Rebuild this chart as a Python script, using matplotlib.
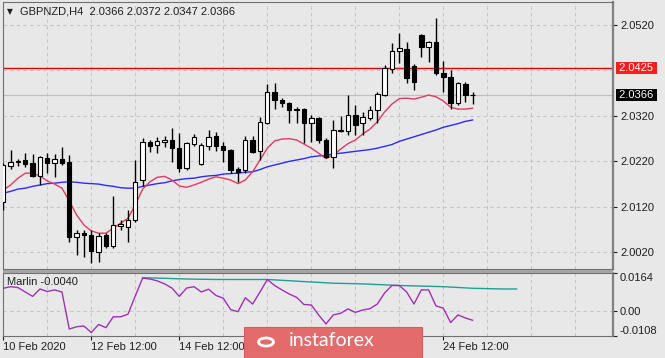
import matplotlib
matplotlib.use("Agg")
import matplotlib.pyplot as plt
from matplotlib.patches import Rectangle, Circle

plt.rcParams['font.family'] = ['Liberation Sans', 'DejaVu Sans']

# GBPNZD H4 candles
opens = [2.0131, 2.0210, 2.0218, 2.0223, 2.0216, 2.0188, 2.0228, 2.0216, 2.0225, 2.0218,
         2.0053, 2.0062, 2.0058, 2.0021, 2.0058, 2.0034, 2.0078, 2.0076, 2.0091, 2.0178,
         2.0263, 2.0256, 2.0262, 2.0268, 2.0249, 2.0205, 2.0258, 2.0214, 2.0254, 2.0276,
         2.0254, 2.0245, 2.0203, 2.0201, 2.0267, 2.0243, 2.0305, 2.0373, 2.0355, 2.0349,
         2.0335, 2.0335, 2.0304, 2.0315, 2.0268, 2.0230, 2.0287, 2.0287, 2.0322, 2.0304,
         2.0315, 2.0333, 2.0366, 2.0423, 2.0463, 2.0467, 2.0430, 2.0498, 2.0471, 2.0482,
         2.0414, 2.0406, 2.0349, 2.0390, 2.0366]
highs = [2.0216, 2.0245, 2.0225, 2.0239, 2.0236, 2.0232, 2.0239, 2.0236, 2.0251, 2.0234,
         2.0069, 2.0069, 2.0069, 2.0062, 2.0062, 2.0144, 2.0091, 2.0113, 2.0223, 2.0271,
         2.0268, 2.0273, 2.0276, 2.0293, 2.0283, 2.0263, 2.0280, 2.0260, 2.0288, 2.0285,
         2.0263, 2.0247, 2.0208, 2.0276, 2.0276, 2.0318, 2.0390, 2.0393, 2.0359, 2.0351,
         2.0339, 2.0337, 2.0322, 2.0318, 2.0271, 2.0310, 2.0320, 2.0366, 2.0344, 2.0329,
         2.0342, 2.0373, 2.0432, 2.0480, 2.0502, 2.0483, 2.0434, 2.0500, 2.0485, 2.0535,
         2.0441, 2.0421, 2.0395, 2.0395, 2.0372]
lows = [2.0113, 2.0203, 2.0210, 2.0208, 2.0186, 2.0168, 2.0194, 2.0185, 2.0212, 2.0043,
        2.0014, 2.0010, 1.9997, 1.9999, 2.0029, 2.0029, 2.0069, 2.0043, 2.0087, 2.0166,
        2.0241, 2.0239, 2.0251, 2.0219, 2.0197, 2.0201, 2.0254, 2.0212, 2.0245, 2.0243,
        2.0219, 2.0194, 2.0175, 2.0194, 2.0238, 2.0223, 2.0302, 2.0335, 2.0340, 2.0305,
        2.0304, 2.0260, 2.0263, 2.0260, 2.0227, 2.0205, 2.0285, 2.0278, 2.0278, 2.0278,
        2.0311, 2.0304, 2.0364, 2.0415, 2.0437, 2.0392, 2.0377, 2.0450, 2.0438, 2.0410,
        2.0373, 2.0335, 2.0344, 2.0351, 2.0347]
closes = [2.0212, 2.0219, 2.0221, 2.0214, 2.0188, 2.0229, 2.0216, 2.0225, 2.0216, 2.0053,
          2.0062, 2.0058, 2.0023, 2.0056, 2.0034, 2.0080, 2.0082, 2.0091, 2.0175, 2.0263,
          2.0254, 2.0265, 2.0268, 2.0249, 2.0205, 2.0260, 2.0273, 2.0256, 2.0274, 2.0254,
          2.0245, 2.0201, 2.0197, 2.0268, 2.0241, 2.0307, 2.0373, 2.0355, 2.0348, 2.0332,
          2.0334, 2.0304, 2.0315, 2.0268, 2.0230, 2.0289, 2.0290, 2.0322, 2.0300, 2.0318,
          2.0333, 2.0368, 2.0425, 2.0463, 2.0469, 2.0403, 2.0395, 2.0471, 2.0482, 2.0414,
          2.0406, 2.0348, 2.0392, 2.0366, 2.0366]

ma_fast = [2.0157, 2.0168, 2.0183, 2.0194, 2.0194, 2.0188, 2.0177, 2.0170, 2.0161, 2.0133,
           2.0102, 2.0080, 2.0067, 2.0062, 2.0062, 2.0073, 2.0084, 2.0095, 2.0124, 2.0159,
           2.0175, 2.0185, 2.0187, 2.0179, 2.0166, 2.0163, 2.0168, 2.0174, 2.0181, 2.0186,
           2.0183, 2.0179, 2.0171, 2.0179, 2.0197, 2.0223, 2.0249, 2.0265, 2.0269, 2.0270,
           2.0267, 2.0258, 2.0249, 2.0238, 2.0226, 2.0234, 2.0247, 2.0259, 2.0267, 2.0280,
           2.0291, 2.0307, 2.0329, 2.0346, 2.0358, 2.0359, 2.0357, 2.0361, 2.0366, 2.0362,
           2.0353, 2.0339, 2.0335, 2.0335, 2.0337]
ma_slow = [2.0150, 2.0154, 2.0159, 2.0161, 2.0165, 2.0168, 2.0171, 2.0172, 2.0174, 2.0175,
           2.0174, 2.0172, 2.0171, 2.0170, 2.0167, 2.0165, 2.0162, 2.0161, 2.0161, 2.0165,
           2.0168, 2.0171, 2.0173, 2.0177, 2.0180, 2.0182, 2.0183, 2.0186, 2.0188, 2.0189,
           2.0192, 2.0193, 2.0194, 2.0196, 2.0197, 2.0202, 2.0208, 2.0212, 2.0216, 2.0220,
           2.0223, 2.0226, 2.0230, 2.0232, 2.0233, 2.0236, 2.0238, 2.0240, 2.0242, 2.0244,
           2.0246, 2.0249, 2.0253, 2.0257, 2.0264, 2.0269, 2.0274, 2.0279, 2.0284, 2.0289,
           2.0295, 2.0299, 2.0303, 2.0308, 2.0311]

marlin = [0.0098, 0.0105, 0.0101, 0.0082, 0.0063, 0.0095, 0.0084, 0.0091, 0.0082, -0.0078,
          -0.0068, -0.0065, -0.0093, -0.0058, -0.0072, -0.0025, -0.0025, -0.0014, 0.0065, 0.0142,
          0.0138, 0.0130, 0.0117, 0.0099, 0.0063, 0.0099, 0.0105, 0.0082, 0.0094, 0.0067,
          0.0055, 0.0006, -0.0003, 0.0057, 0.0030, 0.0082, 0.0136, 0.0110, 0.0091, 0.0073,
          0.0059, 0.0028, 0.0026, -0.0017, -0.0056, -0.0017, -0.0010, 0.0009, -0.0006, 0.0004,
          0.0010, 0.0030, 0.0078, 0.0110, 0.0110, 0.0082, 0.0030, 0.0091, 0.0091, 0.0022,
          0.0012, -0.0050, -0.0017, -0.0030, -0.0040]
signal_idx = [19, 25, 29, 36, 41, 45, 49, 54, 60, 64, 68, 70]
signal_val = [0.0144, 0.0138, 0.0136, 0.0136, 0.0127, 0.0120, 0.0117, 0.0110, 0.0105, 0.0098, 0.0095, 0.0095]

price_grid = [2.0020, 2.0120, 2.0220, 2.0320, 2.0420, 2.0520]
price_ticks = [2.0020, 2.0120, 2.0220, 2.0320, 2.0520]
level_price = 2.0425
bid_price = 2.0366
marlin_ticks = [-0.0108, 0.0, 0.0164]
marlin_tick_labels = ["-0.0108", "0.00", "0.0164"]
time_idx = [0, 12, 24, 60]
time_labels = ["10 Feb 2020", "12 Feb 12:00", "14 Feb 12:00", "24 Feb 12:00"]
title = "GBPNZD,H4  2.0366 2.0372 2.0347 2.0366"

BG = '#e8e8e8'
GRID = '#c6c6c6'
TXT = '#1e1e1e'
W, H = 665, 358


def box(l, t, r, b):
    return [l / W, 1 - b / H, (r - l) / W, (b - t) / H]


fig = plt.figure(figsize=(W / 100, H / 100), dpi=100, facecolor=BG)
ax = fig.add_axes(box(3, 2, 613, 269), facecolor=BG)
ax2 = fig.add_axes(box(3, 273, 613, 336), facecolor=BG)

for a in (ax, ax2):
    a.set_xlim(-0.04, 83.14)
    for s in a.spines.values():
        s.set_color('#707070')
        s.set_linewidth(0.8)
    a.spines['right'].set_linewidth(1.6)
    a.spines['right'].set_color('#808080')
    for g in range(0, 84, 6):
        a.axvline(g, color=GRID, lw=0.8, ls=(0, (3, 3)), zorder=0)
    a.yaxis.tick_right()
    a.tick_params(axis='y', direction='out', length=3, width=0.8, pad=2,
                  labelsize=8, colors=TXT)

# main pane
ax.set_ylim(1.99832, 2.05706)
for p in price_grid:
    ax.axhline(p, color=GRID, lw=0.8, ls=(0, (3, 3)), zorder=0)
ax.set_yticks(price_ticks)
ax.set_yticklabels([f"{p:.4f}" for p in price_ticks])
ax.set_xticks([])

ax.axhline(bid_price, color='#c0c0c0', lw=0.9, zorder=1)
ax.axhline(level_price, color='#e00000', lw=1.0, zorder=1)

idx = list(range(len(opens)))
ax.plot(idx, ma_slow, color='#2b2bff', lw=1.0, zorder=2)
ax.plot(idx, ma_fast, color='#e23a5e', lw=1.0, zorder=2)

for i in idx:
    o, h, l, c = opens[i], highs[i], lows[i], closes[i]
    ax.vlines(i, l, h, color='black', lw=1.0, zorder=3)
    up = c >= o
    ax.bar(i, abs(c - o), bottom=min(o, c), width=0.6,
           color='white' if up else 'black', edgecolor='black', lw=0.8, zorder=4)

ax.annotate(f" {level_price:.4f} ", xy=(1, level_price), xycoords=('axes fraction', 'data'),
            xytext=(2.5, 0), textcoords='offset points', va='center', ha='left',
            color='white', fontsize=8, annotation_clip=False,
            bbox=dict(boxstyle='square,pad=0.08', fc='#ff1c1c', ec='none'))
ax.annotate(f" {bid_price:.4f} ", xy=(1, bid_price), xycoords=('axes fraction', 'data'),
            xytext=(2.5, 0), textcoords='offset points', va='center', ha='left',
            color='white', fontsize=8, annotation_clip=False,
            bbox=dict(boxstyle='square,pad=0.05', fc='black', ec='none'))

# indicator pane
ax2.set_ylim(-0.0108, 0.0164)
ax2.axhline(0.0, color=GRID, lw=0.8, ls=(0, (3, 3)), zorder=0)
ax2.set_yticks(marlin_ticks)
ax2.set_yticklabels(marlin_tick_labels)
lbls = ax2.get_yticklabels()
lbls[0].set_va('bottom')
lbls[2].set_va('top')
ax2.plot(signal_idx, signal_val, color='#1e9f98', lw=1.0, zorder=2)
ax2.plot(idx, marlin, color='#a030b8', lw=1.0, zorder=3)
ax2.text(0.0066, 0.86, f"Marlin {marlin[-1]:.4f}", transform=ax2.transAxes,
         fontsize=8, color=TXT, va='center', ha='left')

ax2.set_xticks(time_idx)
ax2.set_xticklabels(time_labels, ha='left')
ax2.tick_params(axis='x', direction='out', length=3, width=0.8, pad=1,
                labelsize=8, colors=TXT)

# separator between panes
fig.patches.append(Rectangle((3 / W, 1 - 272.5 / H), 610 / W, 3 / H,
                             transform=fig.transFigure, fc='#a4a4a4', ec='none', zorder=1))

# title
fig.text(7 / W, 1 - 11.5 / H, "\u25bc", fontsize=5.5, color=TXT, va='center', ha='left',
         family=['DejaVu Sans'])
fig.text(20 / W, 1 - 11.5 / H, title, fontsize=8, color=TXT, va='center', ha='left')

# watermark
fig.patches.append(Rectangle((244 / W, 0), 178 / W, 31.5 / H, transform=fig.transFigure,
                             fc='#e46b6b', ec='#d85c5c', lw=0.8, zorder=10))
fig.patches.append(Circle((266 / W, 1 - 342 / H), 7.5 / W, transform=fig.transFigure,
                          fc='none', ec='white', lw=2.0, zorder=11))
fig.text(289 / W, 1 - 341 / H, "instaforex", fontsize=14, color='white',
         va='center', ha='left', family=['Lato', 'DejaVu Sans'], zorder=12)

fig.savefig("out.png", dpi=100, facecolor=BG)
